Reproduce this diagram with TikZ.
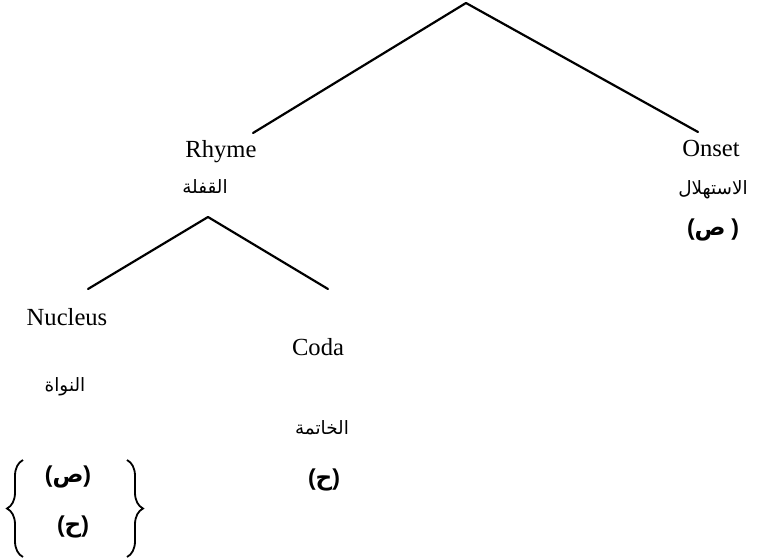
\documentclass[tikz,border=0pt]{standalone}
\usepackage{fontspec}
\setmainfont{Liberation Serif}
\newfontfamily\arabicfont[Script=Arabic]{DejaVu Sans}
\newfontfamily\parenfont{Liberation Sans}
\TeXXeTstate=1
\usetikzlibrary{decorations.pathreplacing}

\newcommand{\ar}[1]{{\arabicfont\beginR #1\endR}}
\newcommand{\lp}{{\parenfont(}}
\newcommand{\rp}{{\parenfont)}}

\begin{document}
\begin{tikzpicture}[x=0.5pt, y=-0.5pt,
  branch/.style={line width=1.1pt, line cap=round, line join=round},
  eng/.style={font=\fontsize{12.3}{14}\selectfont, inner sep=0pt, anchor=base},
  arlabel/.style={font=\fontsize{9.2}{11}\selectfont, inner sep=0pt},
  arseg/.style={font=\fontsize{11.5}{13}\selectfont\bfseries, inner sep=0pt},
  curly/.style={decorate, decoration={brace, amplitude=8pt}, line width=0.9pt}]
\useasboundingbox (0,0) rectangle (763,560);

% upper tree: syllable -> rhyme, onset
\coordinate (root) at (466,3);
\coordinate (rhymetop) at (253,133);
\coordinate (onsettop) at (698,132);
\draw[branch] (rhymetop) -- (root) -- (onsettop);

\node[eng] (rhyme) at (221,158) {Rhyme};
\node[arlabel] (rhymeAr) at (205,187) {\ar{القفلة}};

\node[eng] (onset) at (711,157) {Onset};
\node[arlabel] (onsetAr) at (713,190) {\ar{الاستهلال}};
\node[arseg] (onsetSeg) at (713,230) {\lp\ar{ص}\ \rp};

% lower tree: rhyme -> nucleus, coda
\coordinate (rhymefork) at (208,217);
\coordinate (nucleustop) at (88,289);
\coordinate (codatop) at (328,289);
\draw[branch] (nucleustop) -- (rhymefork) -- (codatop);

\node[eng] (nucleus) at (67,325) {Nucleus};
\node[arlabel] (nucleusAr) at (65,387) {\ar{النواة}};

\node[eng] (coda) at (318,355) {Coda};
\node[arlabel] (codaAr) at (322,428) {\ar{الخاتمة}};
\node[arseg] (codaSeg) at (324,480) {\lp\ar{ح}\rp};

% nucleus options inside braces
\node[arseg] (nucSegA) at (68,477) {\lp\ar{ص}\rp};
\node[arseg] (nucSegB) at (73,527) {\lp\ar{ح}\rp};
\coordinate (lbBot) at (23,557);
\coordinate (lbTop) at (23,460);
\coordinate (rbTop) at (127,460);
\coordinate (rbBot) at (127,557);
\draw[curly] (lbBot) -- (lbTop);
\draw[curly] (rbTop) -- (rbBot);
\end{tikzpicture}
\end{document}
